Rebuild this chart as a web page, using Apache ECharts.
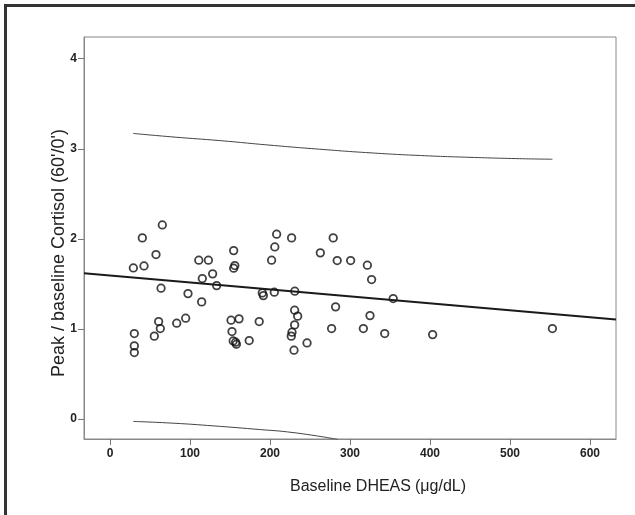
<!DOCTYPE html>
<html>
<head>
<meta charset="utf-8">
<script src="https://cdn.jsdelivr.net/npm/echarts@6/dist/echarts.min.js"></script>
<style>html,body{margin:0;padding:0;background:#fff}#c{width:635px;height:515px}</style>
</head>
<body>
<div id="c"></div>
<script>
// Scatter data: Baseline DHEAS (µg/dL) vs Peak / baseline cortisol
const dheas = [65.4, 40.4, 57.5, 29.2, 42.5, 63.8, 111, 123, 154.6, 156, 154.6, 128.3, 115.4, 133.3, 97.5, 114.6,
  30.4, 30.4, 30.4, 60.8, 62.9, 55.4, 83.4, 94.6, 151.3, 161.3, 152.5, 154, 157, 158, 174,
  208.3, 227, 206, 202, 279, 262.9, 284, 300.8, 321.7, 327, 190.4, 191.7, 205.4, 231, 230.8, 234.6, 230.8,
  227.5, 226.6, 246.3, 230, 186.5, 282, 277, 325, 316.7, 343.4,
  354, 403.3, 553];
const ratio = [2.155, 2.011, 1.826, 1.678, 1.70, 1.453, 1.764, 1.764, 1.87, 1.704, 1.675, 1.612, 1.56, 1.482, 1.393, 1.301,
  0.95, 0.813, 0.739, 1.083, 1.005, 0.921, 1.065, 1.12, 1.098, 1.113, 0.972, 0.868, 0.854, 0.832, 0.872,
  2.052, 2.011, 1.911, 1.764, 2.011, 1.845, 1.76, 1.76, 1.708, 1.549, 1.401, 1.371, 1.409, 1.42, 1.209, 1.143, 1.046,
  0.965, 0.921, 0.846, 0.765, 1.083, 1.246, 1.005, 1.149, 1.005, 0.95,
  1.338, 0.938, 1.005];
// Fit line (read at plot edges)
const fitX = [-32.5, 632.5];
const fitY = [1.62, 1.105];
// Upper prediction bound
const upperX = [29, 80, 138, 200, 262, 325, 388, 450, 512, 553];
const upperY = [3.17, 3.13, 3.09, 3.04, 2.995, 2.955, 2.925, 2.905, 2.89, 2.884];
// Lower prediction bound
const lowerX = [29, 80, 130, 180, 230, 285];
const lowerY = [-0.025, -0.045, -0.075, -0.11, -0.15, -0.225];
// Ticks
const xTicks = [0, 100, 200, 300, 400, 500, 600];
const yTicks = [0, 1, 2, 3, 4];

const zip = (a, b) => a.map((v, i) => [v, b[i]]);
const tickFont = {fontFamily: 'Liberation Sans Narrow, Arial Narrow, sans-serif', fontWeight: 'bold', fontSize: 12, color: '#222'};

const chart = echarts.init(document.getElementById('c'), null, {renderer: 'canvas'});
chart.setOption({
  animation: false,
  backgroundColor: '#fff',
  grid: {left: 84, top: 37, right: 19, bottom: 76, show: true, borderColor: '#888', borderWidth: 1, backgroundColor: 'transparent'},
  xAxis: {
    type: 'value', min: -32.5, max: 632.5,
    axisLine: {show: true, onZero: false, lineStyle: {color: '#888', width: 1}},
    axisTick: {show: true, inside: false, length: 6, customValues: xTicks, lineStyle: {color: '#777'}},
    axisLabel: Object.assign({customValues: xTicks, margin: 9}, tickFont),
    splitLine: {show: false}
  },
  yAxis: {
    type: 'value', min: -0.22, max: 4.24,
    axisLine: {show: true, onZero: false, lineStyle: {color: '#888', width: 1}},
    axisTick: {show: true, inside: false, length: 6, customValues: yTicks, lineStyle: {color: '#777'}},
    axisLabel: Object.assign({customValues: yTicks, margin: 7}, tickFont),
    splitLine: {show: false}
  },
  series: [
    {type: 'line', data: zip(upperX, upperY), showSymbol: false, smooth: true, clip: true,
     lineStyle: {color: '#444', width: 1}},
    {type: 'line', data: zip(lowerX, lowerY), showSymbol: false, smooth: true, clip: true,
     lineStyle: {color: '#444', width: 1}},
    {type: 'line', data: zip(fitX, fitY), showSymbol: false, clip: true,
     lineStyle: {color: '#1a1a1a', width: 2}},
    {type: 'scatter', data: zip(dheas, ratio), symbol: 'circle', symbolSize: 7.5,
     itemStyle: {color: 'rgba(255,255,255,0)', borderColor: '#111', borderWidth: 1.8}}
  ],
  graphic: [
    {type: 'rect', shape: {x: 5.5, y: 5.5, width: 700, height: 600}, style: {fill: 'none', stroke: '#333', lineWidth: 3}, silent: true},
    {type: 'text', left: 290, top: 479, style: {text: 'Baseline DHEAS', fontFamily: 'Liberation Sans, Arial, sans-serif', fontSize: 16, fill: '#222'}},
    {type: 'text', left: 415, top: 479, style: {text: '(μg/dL)', fontFamily: 'Liberation Sans Narrow, Arial Narrow, sans-serif', fontSize: 16, fill: '#222'}},
    {type: 'text', x: 59, y: 253, rotation: Math.PI / 2,
     style: {text: "Peak / baseline Cortisol (60'/0')", fontFamily: 'Liberation Sans, Arial, sans-serif', fontSize: 18, fill: '#222', align: 'center', verticalAlign: 'middle'}}
  ]
});
</script>
</body>
</html>
